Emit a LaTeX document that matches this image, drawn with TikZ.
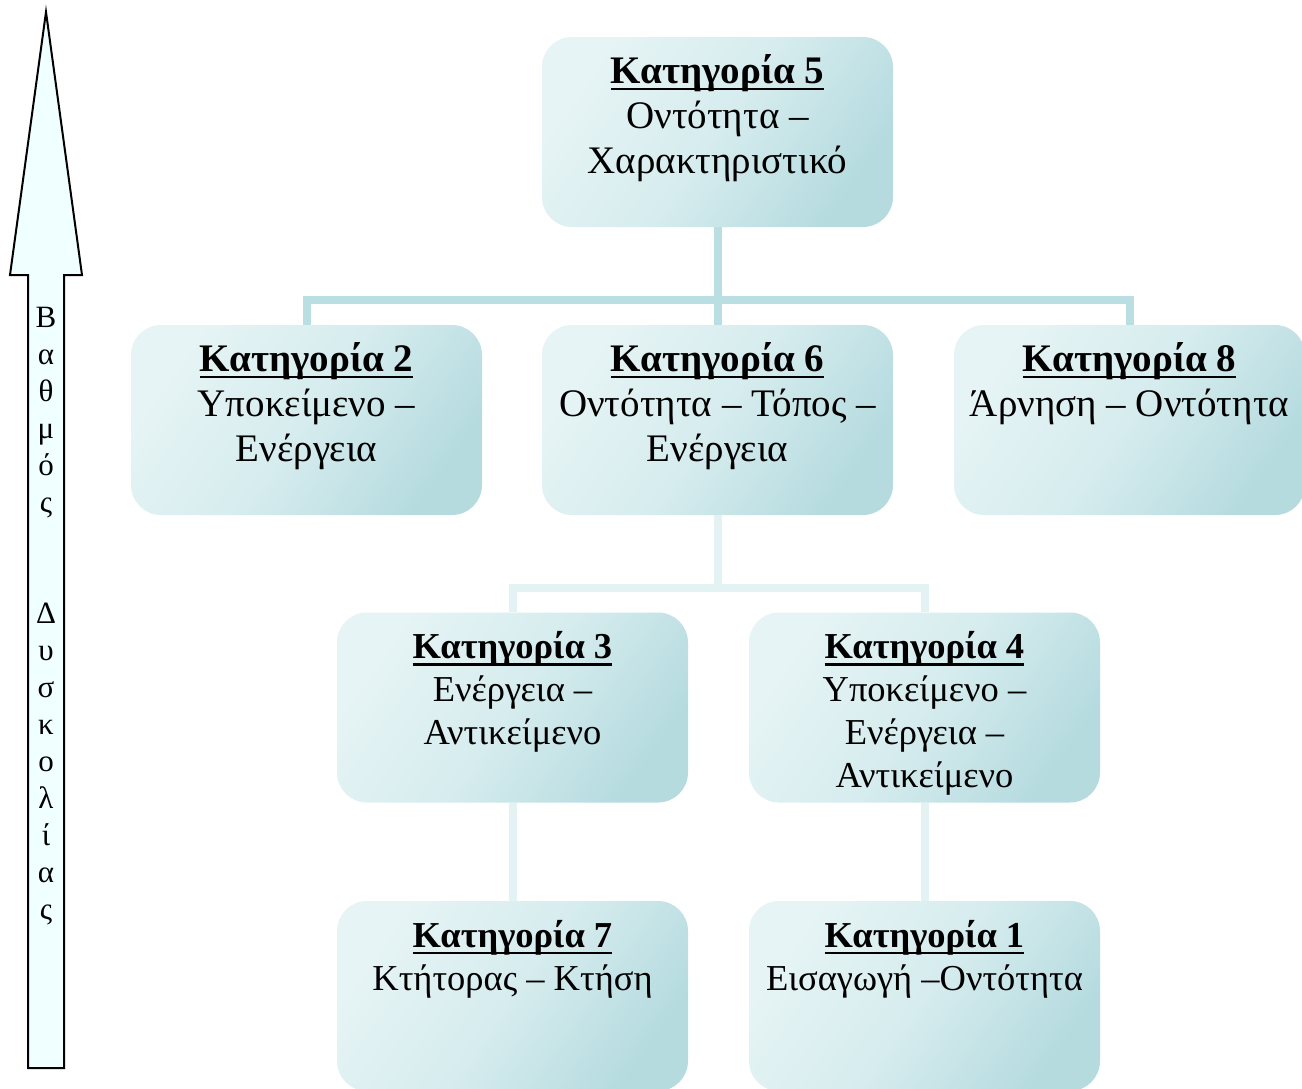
\documentclass[tikz,border=0pt]{standalone}
\usepackage{fontspec}
\setmainfont{Liberation Serif}
\definecolor{boxlight}{HTML}{E6F4F5}
\definecolor{boxmid}{HTML}{D6ECEE}
\definecolor{boxdark}{HTML}{B5DBDF}
\definecolor{connA}{HTML}{B9DFE2}
\definecolor{connB}{HTML}{E3F2F3}
\definecolor{arrowfill}{HTML}{F0FFFF}
\newcommand\catul[1]{\setbox0\hbox{#1}\rlap{\rule[-7pt]{\wd0}{2.5pt}}\box0}
\tikzset{
  catbox/.style={rectangle, rounded corners=30pt, minimum width=351pt, minimum height=190pt,
    inner sep=0pt, top color=boxlight, bottom color=boxdark, middle color=boxmid, shading angle=55, draw=none},
  bigtxt/.style={anchor=north, align=center, inner sep=0pt, font=\fontsize{39}{45}\selectfont},
  smalltxt/.style={anchor=north, align=center, inner sep=0pt, font=\fontsize{36.5}{43}\selectfont},
  connmain/.style={draw=connA, line width=8pt},
  connsub/.style={draw=connB, line width=8pt},
}
\begin{document}
\begin{tikzpicture}[x=1pt, y=-1pt]
\useasboundingbox (0,0) rectangle (1302,1088);
\clip (0,0) rectangle (1302,1088);
\fill[white] (0,0) rectangle (1302,1088);

% arrow
\draw[line width=2pt, fill=arrowfill, line join=miter]
  (28,1068) -- (28,275) -- (10,275) -- (46,12) -- (82,275) -- (64,275) -- (64,1068) -- cycle;
\node[anchor=north, align=center, inner sep=0pt, font=\fontsize{31}{37}\selectfont] (arrowtxt) at (46,301.1)
  {\strut Β\\α\\θ\\μ\\ό\\ς\\~\\~\\Δ\\υ\\σ\\κ\\ο\\λ\\ί\\α\\ς};

% boxes
\node[catbox] (b5) at (717.5,132) {};
\node[catbox] (b2) at (306.5,420) {};
\node[catbox] (b6) at (717.5,420) {};
\node[catbox] (b8) at (1129.5,420) {};
\node[catbox] (b3) at (512.5,707.5) {};
\node[catbox] (b4) at (924.5,707.5) {};
\node[catbox] (b7) at (512.5,996) {};
\node[catbox] (b1) at (924.5,996) {};

% connectors
\coordinate (j1) at (717.5,300);
\coordinate (j2) at (717.5,588);
\draw[connmain] (b5.south) -- (j1);
\draw[connmain] (b2.north) |- (j1) -| (b8.north);
\draw[connmain] (j1) -- (b6.north);
\draw[connsub] (b6.south) -- (j2);
\draw[connsub] (b3.north) |- (j2) -| (b4.north);
\draw[connsub] (b3.south) -- (b7.north);
\draw[connsub] (b4.south) -- (b1.north);

% texts
\node[bigtxt] (t5) at ([yshift=-14.5pt]b5.north) {\strut\catul{\textbf{Κατηγορία 5}}\\Οντότητα –\\Χαρακτηριστικό};
\node[bigtxt] (t2) at ([yshift=-14.5pt]b2.north) {\strut\catul{\textbf{Κατηγορία 2}}\\Υποκείμενο –\\Ενέργεια};
\node[bigtxt] (t6) at ([yshift=-14.5pt]b6.north) {\strut\catul{\textbf{Κατηγορία 6}}\\Οντότητα – Τόπος –\\Ενέργεια};
\node[bigtxt] (t8) at ([yshift=-14.5pt]b8.north) {\strut\catul{\textbf{Κατηγορία 8}}\\Άρνηση – Οντότητα};
\node[smalltxt] (t3) at ([yshift=-15.9pt]b3.north) {\strut\catul{\textbf{Κατηγορία 3}}\\Ενέργεια –\\Αντικείμενο};
\node[smalltxt] (t4) at ([yshift=-15.9pt]b4.north) {\strut\catul{\textbf{Κατηγορία 4}}\\Υποκείμενο –\\Ενέργεια –\\Αντικείμενο};
\node[smalltxt] (t7) at ([yshift=-15.9pt]b7.north) {\strut\catul{\textbf{Κατηγορία 7}}\\Κτήτορας – Κτήση};
\node[smalltxt] (t1) at ([yshift=-15.9pt]b1.north) {\strut\catul{\textbf{Κατηγορία 1}}\\Εισαγωγή –Οντότητα};
\end{tikzpicture}
\end{document}
